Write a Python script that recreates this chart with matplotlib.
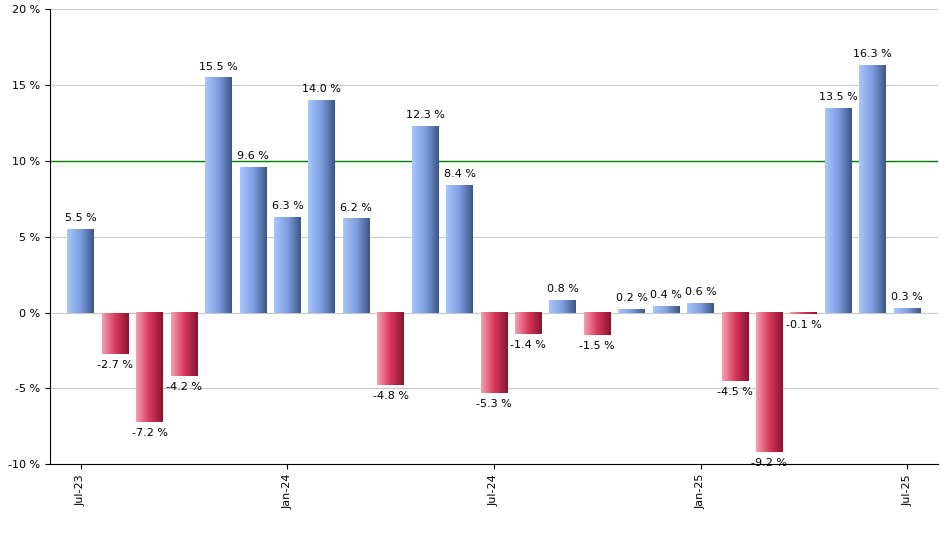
import matplotlib.pyplot as plt
import numpy as np
from matplotlib.colors import LinearSegmentedColormap

months = ["Jul-23", "Aug-23", "Sep-23", "Oct-23", "Nov-23", "Dec-23", "Jan-24", "Feb-24",
          "Mar-24", "Apr-24", "May-24", "Jun-24", "Jul-24", "Aug-24", "Sep-24", "Oct-24",
          "Nov-24", "Dec-24", "Jan-25", "Feb-25", "Mar-25", "Apr-25", "May-25", "Jun-25", "Jul-25"]
values = [5.5, -2.7, -7.2, -4.2, 15.5, 9.6, 6.3, 14.0, 6.2, -4.8, 12.3, 8.4, -5.3, -1.4,
          0.8, -1.5, 0.2, 0.4, 0.6, -4.5, -9.2, -0.1, 13.5, 16.3, 0.3]
tick_labels = ["Jul-23", "Jan-24", "Jul-24", "Jan-25", "Jul-25"]
target = 10

blue = LinearSegmentedColormap.from_list("b", ["#a9c6fb", "#7d9fe0", "#3d5686"])
red = LinearSegmentedColormap.from_list("r", ["#f3a0b0", "#d8385a", "#8a1430"])
grad = np.linspace(0, 1, 64).reshape(1, -1)

fig = plt.figure(figsize=(9.4, 5.5), dpi=100)
ax = fig.add_axes([0.053, 0.156, 0.945, 0.827])
w = 0.39
for i, v in enumerate(values):
    ax.imshow(grad, cmap=blue if v >= 0 else red, aspect="auto",
              extent=(i - w, i + w, min(0, v), max(0, v)), zorder=2, interpolation="bilinear")
    off = 0.4 if v >= 0 else -0.4
    ax.text(i, v + off, f"{v:.1f} %", ha="center", va="bottom" if v >= 0 else "top",
            fontsize=8, zorder=3)

ax.axhline(target, color="green", lw=1, zorder=1.5)
ax.set_xlim(-0.9, 24.9)
ax.set_ylim(-10, 20)
ax.set_yticks(range(-10, 21, 5))
ax.set_yticklabels([f"{t} %" for t in range(-10, 21, 5)], fontsize=8)
ax.set_xticks([months.index(m) for m in tick_labels])
ax.set_xticklabels(tick_labels, rotation=90, fontsize=8)
ax.grid(axis="y", color="#c8c8c8", lw=0.8, zorder=0)
for s in ["top", "right"]:
    ax.spines[s].set_visible(False)
ax.set_axisbelow(True)
fig.savefig("out.png", dpi=100)
